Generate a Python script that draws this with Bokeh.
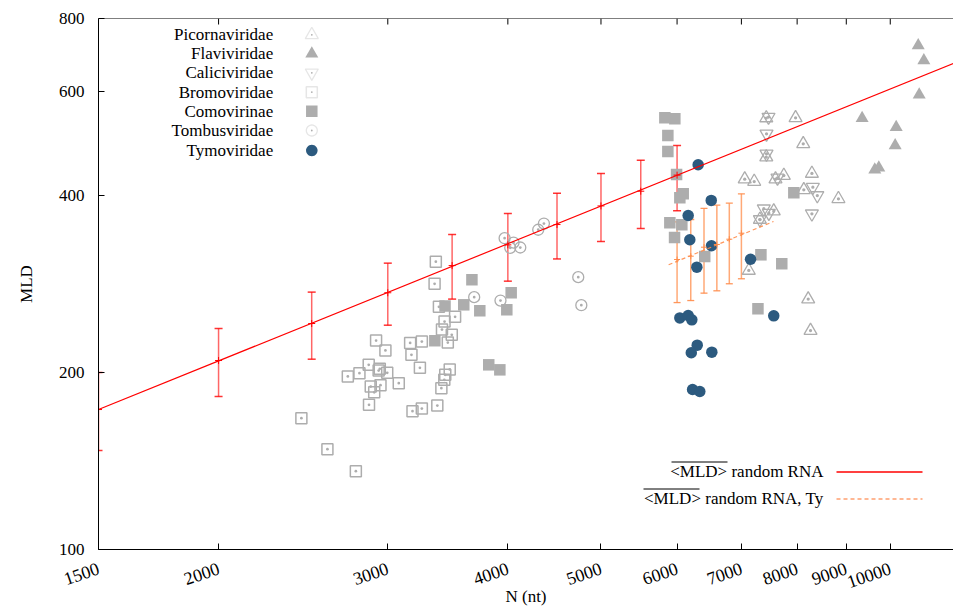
import math
from bokeh.plotting import figure
from bokeh.models import (Range1d, FixedTicker, Whisker, TeeHead, ColumnDataSource,
                          Label, PolyAnnotation, Arrow, NumeralTickFormatter)
from bokeh.embed import file_html
from bokeh.resources import INLINE

# ---------------- data ----------------
x_ticks = [1500, 2000, 3000, 4000, 5000, 6000, 7000, 8000, 9000, 10000]
y_ticks = [100, 200, 400, 600, 800]

pico_n = [7430, 7970, 8118, 7430, 7056, 7218, 7596, 7749, 8288, 8129, 8832, 7564, 7317, 7125, 8215, 8261]
pico_mld = [541.8, 542.2, 489.7, 464.8, 426.4, 422.5, 426.4, 432.5, 436.0, 409.0, 394.9, 376.2, 364.1, 298.2, 266.6, 235.7]

flav_n = [10693, 10838, 10718, 9348, 10143, 10118, 9636, 9729]
flav_mld = [719.7, 678.7, 593.3, 541.4, 522.6, 486.5, 442.3, 445.9]

cali_n = [7470, 7434, 7434, 7632, 8307, 8396, 8288, 7386, 7476, 7317]
cali_mld = [543.9, 509.3, 470.9, 428.7, 413.2, 400.0, 372.4, 379.8, 373.3, 364.1]

brom_n = [3366, 3356, 3391, 3437, 3525, 3416, 3497, 3464, 2917, 2983, 3165, 3255, 3175, 3240,
          2866, 2803, 2726, 2935, 2996, 2943, 2948, 2880, 2904, 3080, 2868, 3480, 3443, 3435,
          3411, 3378, 3255, 3183, 2439, 2596, 2779]
brom_mld = [308.6, 283.1, 258.7, 244.2, 248.7, 236.6, 231.8, 224.9, 226.7, 218.0, 224.6, 225.8,
            214.3, 203.7, 206.1, 199.5, 196.9, 201.5, 199.8, 202.9, 190.3, 189.3, 185.1, 191.8,
            176.2, 202.4, 198.2, 194.4, 188.1, 175.7, 173.7, 171.9, 167.2, 148.1, 135.9]

como_n = [3670, 3599, 3740, 4032, 3990, 3441, 3358, 3821, 3924, 5827, 5968, 5869, 5869, 5993,
          6089, 6040, 5897, 6069, 5964, 6411, 7335, 7711, 7283, 7937]
como_mld = [287.6, 260.7, 254.7, 273.3, 255.7, 259.5, 226.5, 206.1, 202.1, 542.2, 540.1, 505.9,
            475.3, 434.3, 402.6, 396.4, 359.4, 356.6, 339.3, 315.0, 317.1, 306.2, 256.7, 404.2]

tomb_n = [3969, 4055, 4023, 4121, 4302, 4361, 3690, 3930, 4735, 4770]
tomb_mld = [338.4, 332.7, 325.9, 326.3, 349.8, 358.4, 268.6, 265.1, 290.5, 260.3]

tymo_n = [6311, 6512, 6162, 6186, 6516, 6291, 7155, 6040, 6162, 6216, 7564, 6297, 6208, 6521, 6227, 6336]
tymo_mld = [451.1, 392.4, 369.8, 336.3, 328.5, 302.1, 311.7, 247.7, 250.0, 245.8, 249.7, 222.6,
            216.1, 216.6, 187.1, 185.7]

# random RNA <MLD> with error bars
rr_n = [1500, 2000, 2500, 3000, 3500, 4000, 4500, 5000, 5500, 6000]
rr_mld = [173.0, 209.6, 242.3, 273.3, 304.0, 329.7, 357.0, 384.0, 406.8, 433.2]
rr_lo = [147.4, 182.0, 210.7, 240.7, 266.6, 286.0, 312.0, 334.0, 351.6, 376.7]
rr_hi = [200.0, 237.6, 274.0, 306.9, 343.4, 372.8, 403.6, 436.0, 459.0, 486.5]
fit_n = [1500, 12000]
fit_mld = [173.0, 685.0]

# random RNA, Ty
ty_n = [6000, 6200, 6400, 6600, 6800, 7000]
ty_mld = [311.3, 315.4, 326.7, 330.2, 337.1, 345.1]
ty_lo = [263.0, 265.1, 272.9, 275.4, 283.1, 288.7]
ty_hi = [360.8, 364.1, 380.2, 385.1, 388.2, 402.7]
ty_fit_n = [5880, 7560]
ty_fit_mld = [305.0, 361.3]

names = ["Picornaviridae", "Flaviviridae", "Caliciviridae", "Bromoviridae",
         "Comovirinae", "Tombusviridae", "Tymoviridae"]

# ---------------- style ----------------
FONT = "Liberation Serif"
GRAY = "#adadad"
BLUE = "#2c5a7f"
RED = "#ff0000"
ORANGE = "#ff8c4a"
FS = "17px"
Y0, Y1 = 100, 800
X0, X1 = 1500, 11636

p = figure(width=953, height=609, x_axis_type="log", y_axis_type="log",
           x_range=Range1d(X0, X1), y_range=Range1d(Y0, Y1),
           output_backend="svg", toolbar_location=None,
           min_border_left=98, min_border_right=0, min_border_top=18, min_border_bottom=60)
p.outline_line_color = None
p.grid.visible = False

for ax in (p.xaxis[0], p.yaxis[0]):
    ax.major_tick_in = 6
    ax.major_tick_out = 0
    ax.minor_tick_in = 0
    ax.minor_tick_out = 0
    ax.axis_line_color = "black"
    ax.major_tick_line_color = "black"
    ax.major_label_text_font = FONT
    ax.major_label_text_font_size = FS
    ax.major_label_text_color = "black"
    ax.axis_label_text_font = FONT
    ax.axis_label_text_font_size = FS
    ax.axis_label_text_font_style = "normal"
    ax.axis_label_text_color = "black"
    ax.formatter = NumeralTickFormatter(format="0")

p.xaxis[0].ticker = FixedTicker(ticks=x_ticks, minor_ticks=[])
p.yaxis[0].ticker = FixedTicker(ticks=y_ticks, minor_ticks=[])
p.xaxis[0].major_label_text_font_size = "18px"
p.xaxis[0].major_label_orientation = 0.33
p.xaxis[0].major_label_standoff = 18
p.xaxis[0].axis_label = "N (nt)"
p.xaxis[0].axis_label_standoff = -10
p.yaxis[0].axis_label = "MLD"
p.yaxis[0].major_label_standoff = 14
p.yaxis[0].axis_label_standoff = 20

# mirrored tick marks on the top border (6 px long, inward)
tick_f = (Y1 / Y0) ** (6 / 531)
p.segment(x0=x_ticks, x1=x_ticks, y0=[Y1] * len(x_ticks), y1=[Y1 / tick_f] * len(x_ticks),
          line_color="black", line_width=1)

# ---------------- data glyphs ----------------
p.scatter(brom_n, brom_mld, marker="square_dot", size=11, fill_color=None, line_color=GRAY, line_width=1.5)
p.scatter(como_n, como_mld, marker="square", size=11.5, fill_color=GRAY, line_color=None)
p.scatter(tomb_n, tomb_mld, marker="circle_dot", size=11, fill_color=None, line_color=GRAY, line_width=1.3)
p.scatter(pico_n, pico_mld, marker="triangle_dot", size=13, fill_color=None, line_color=GRAY, line_width=1.3)
p.scatter(cali_n, cali_mld, marker="inverted_triangle", size=13, fill_color=None, line_color=GRAY, line_width=1.3)
p.scatter(cali_n, cali_mld, marker="dot", size=13, fill_color=None, line_color=GRAY)
p.scatter(flav_n, flav_mld, marker="triangle", size=13, fill_color=GRAY, line_color=None)
p.scatter(tymo_n, tymo_mld, marker="circle", size=11.5, fill_color=BLUE, line_color=None)

# random RNA fit + error bars
p.line(fit_n, fit_mld, line_color=RED, line_width=1.2)
rsrc = ColumnDataSource(dict(base=rr_n, lower=rr_lo, upper=rr_hi))
p.add_layout(Whisker(source=rsrc, base="base", lower="lower", upper="upper", dimension="height",
                     line_color=RED, line_alpha=0.6, line_width=1.5,
                     upper_head=TeeHead(size=8, line_color=RED, line_alpha=0.8, line_width=1.5),
                     lower_head=TeeHead(size=8, line_color=RED, line_alpha=0.8, line_width=1.5)))
p.scatter(rr_n, rr_mld, marker="cross", size=7, line_color=RED, line_width=1)

p.line(ty_fit_n, ty_fit_mld, line_color=ORANGE, line_width=1.2, line_dash="4 3", line_alpha=0.9)
tsrc = ColumnDataSource(dict(base=ty_n, lower=ty_lo, upper=ty_hi))
p.add_layout(Whisker(source=tsrc, base="base", lower="lower", upper="upper", dimension="height",
                     line_color=ORANGE, line_alpha=0.75, line_width=1.5,
                     upper_head=TeeHead(size=7, line_color=ORANGE, line_alpha=0.9, line_width=1.3),
                     lower_head=TeeHead(size=7, line_color=ORANGE, line_alpha=0.9, line_width=1.3)))
p.scatter(ty_n, ty_mld, marker="cross", size=6, line_color=ORANGE, line_width=1)

# ---------------- legends (screen-space layout) ----------------
FL, FB = 98, 549  # position of frame left / bottom in the picture


def sx(px):
    return px - FL


def sy(py):
    return FB - py


def poly(pts, fill, line, lw=1.3):
    p.add_layout(PolyAnnotation(xs=[sx(a) for a, b in pts], ys=[sy(b) for a, b in pts],
                                xs_units="screen", ys_units="screen",
                                fill_color=fill, fill_alpha=1.0 if fill else 0.0,
                                line_color=line, line_width=lw))


def circ(cx, cy, r, k=28):
    return [(cx + r * math.cos(2 * math.pi * i / k), cy + r * math.sin(2 * math.pi * i / k)) for i in range(k)]


def seg(x0, y0, x1, y1, color, lw=1.0, dash="solid", alpha=1.0):
    p.add_layout(Arrow(end=None, x_start=sx(x0), y_start=sy(y0), x_end=sx(x1), y_end=sy(y1),
                       start_units="screen", end_units="screen", line_color=color,
                       line_width=lw, line_dash=dash, line_alpha=alpha))


# top border of the frame
seg(98, 18, 953, 18, "black", 1.0)

rows = [34.3, 53.3, 72.3, 91.7, 110.7, 130.0, 150.0]
SX = 311.3
for name, ry in zip(names, rows):
    p.add_layout(Label(x=sx(272.7), y=sy(ry), x_units="screen", y_units="screen", text=name,
                       text_align="right", text_baseline="middle", text_font=FONT,
                       text_font_size=FS, text_color="black"))

h = 13 * math.sqrt(3) / 2
up = lambda cx, cy: [(cx - 6.5, cy + h / 3), (cx + 6.5, cy + h / 3), (cx, cy - 2 * h / 3)]
down = lambda cx, cy: [(cx - 6.5, cy - h / 3), (cx + 6.5, cy - h / 3), (cx, cy + 2 * h / 3)]
sq = lambda cx, cy, s: [(cx - s, cy - s), (cx + s, cy - s), (cx + s, cy + s), (cx - s, cy + s)]

poly(up(SX, rows[0]), None, GRAY)
poly(circ(SX, rows[0], 0.9, 8), GRAY, None, 0)
poly(up(SX, rows[1]), GRAY, None, 0)
poly(down(SX, rows[2]), None, GRAY)
poly(circ(SX, rows[2], 0.9, 8), GRAY, None, 0)
poly(sq(SX, rows[3], 5.5), None, GRAY, 1.5)
poly(circ(SX, rows[3], 0.9, 8), GRAY, None, 0)
poly(sq(SX, rows[4], 5.75), GRAY, None, 0)
poly(circ(SX, rows[5], 5.5), None, GRAY)
poly(circ(SX, rows[5], 0.9, 8), GRAY, None, 0)
poly(circ(SX, rows[6], 5.75), BLUE, None, 0)

# bottom-right legend
p.add_layout(Label(x=sx(823), y=sy(471), x_units="screen", y_units="screen",
                   text="<MLD> random RNA", text_align="right", text_baseline="middle",
                   text_font=FONT, text_font_size=FS, text_color="black"))
p.add_layout(Label(x=sx(823), y=sy(498), x_units="screen", y_units="screen",
                   text="<MLD> random RNA, Ty", text_align="right", text_baseline="middle",
                   text_font=FONT, text_font_size=FS, text_color="black"))

seg(671, 461.5, 727, 461.5, "black", 1.0)
seg(643, 488.5, 699, 488.5, "black", 1.0)
seg(836, 471.5, 922, 471.5, RED, 1.3)
seg(836, 498.5, 922, 498.5, "#ffa070", 1.3, "4 3")

open("out.html", "w").write(file_html(p, INLINE))
